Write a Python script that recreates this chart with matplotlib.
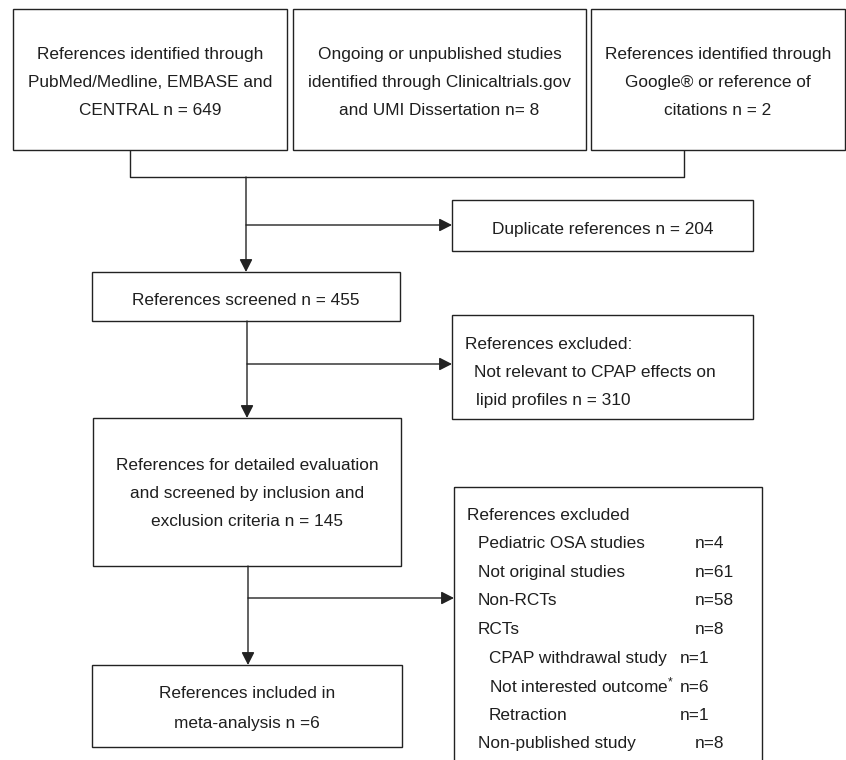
import matplotlib
matplotlib.use("Agg")
import matplotlib.pyplot as plt
from matplotlib.patches import Rectangle

plt.rcParams['font.family'] = ['Liberation Sans', 'DejaVu Sans']
plt.rcParams['mathtext.fontset'] = 'custom'
plt.rcParams['mathtext.rm'] = 'Liberation Sans'
plt.rcParams['mathtext.it'] = 'Liberation Sans'
plt.rcParams['mathtext.bf'] = 'Liberation Sans'

# ---- data (texts and counts) ----
source_labels = [
    ["References identified through", "PubMed/Medline, EMBASE and", "CENTRAL n = 649"],
    ["Ongoing or unpublished studies", "identified through Clinicaltrials.gov", "and UMI Dissertation n= 8"],
    ["References identified through", "Google\u00ae or reference of", "citations n = 2"],
]
duplicate_label = ["Duplicate references n = 204"]
screened_label = ["References screened n = 455"]
excluded1_label = ["References excluded:", "Not relevant to CPAP effects on", "lipid profiles n = 310"]
detailed_label = ["References for detailed evaluation", "and screened by inclusion and", "exclusion criteria n = 145"]
included_label = ["References included in", "meta-analysis n =6"]
excl2_header = "References excluded"
excl2_items = ["Pediatric OSA studies", "Not original studies", "Non-RCTs", "RCTs",
               "CPAP withdrawal study", r"Not interested outcome$^{*}$", "Retraction",
               "Non-published study"]
excl2_counts = ["n=4", "n=61", "n=58", "n=8", "n=1", "n=6", "n=1", "n=8"]
excl2_level = [1, 1, 1, 1, 2, 2, 2, 1]

# ---- layout ----
W, H = 846, 760
fig = plt.figure(figsize=(W / 100, H / 100), dpi=100)
ax = fig.add_axes([0, 0, 1, 1])
ax.set_xlim(0, W)
ax.set_ylim(H, 0)
ax.axis('off')

EC = '#222222'
TC = '#1e1e1e'
LW = 1.0
FS = 12.4
BOFF = 6  # baseline offset from visual line centre


def box(x0, y0, x1, y1):
    ax.add_patch(Rectangle((x0, y0), x1 - x0, y1 - y0, fill=False, ec=EC, lw=LW))


def centred_lines(lines, cx, ys):
    for t, y in zip(lines, ys):
        ax.text(cx, y + BOFF, t, ha='center', va='baseline', fontsize=FS, color=TC)


def line(xs, ys):
    ax.plot(xs, ys, color=EC, lw=LW, solid_capstyle='butt')


def arrow(x0, y0, x1, y1):
    ax.annotate('', xy=(x1, y1), xytext=(x0, y0),
                arrowprops=dict(arrowstyle='-|>,head_length=0.55,head_width=0.28',
                                mutation_scale=14, lw=LW, color=EC,
                                shrinkA=0, shrinkB=0))


# top source boxes
src_boxes = [(13, 9, 287, 150), (293, 9, 586, 150), (591, 9, 845, 150)]
top_ys = [53, 81, 109]
for (x0, y0, x1, y1), lab in zip(src_boxes, source_labels):
    box(x0, y0, x1, y1)
    centred_lines(lab, (x0 + x1) / 2, top_ys)

# bracket
line([130, 130, 684, 684], [150, 177, 177, 150])

# duplicate
box(452, 200, 753, 251)
centred_lines(duplicate_label, 602.5, [228])

# screened
box(92, 272, 400, 321)
centred_lines(screened_label, 246, [299])
arrow(246, 177, 246, 272)
arrow(246, 225, 452, 225)

# excluded 1
box(452, 315, 753, 419)
for t, x, y in zip(excluded1_label, [465, 474, 476], [343, 371, 399]):
    ax.text(x, y + BOFF, t, ha='left', va='baseline', fontsize=FS, color=TC)

# detailed evaluation
box(93, 418, 401, 566)
centred_lines(detailed_label, 247, [464, 492, 520])
arrow(247, 321, 247, 418)
arrow(247, 364, 452, 364)

# included
box(92, 665, 402, 747)
centred_lines(included_label, 247, [692, 722])
arrow(248, 566, 248, 665)
arrow(248, 598, 454, 598)

# excluded 2
box(454, 487, 762, 775)
ys2 = [514, 542, 571, 599, 628, 657, 686, 714, 742]
ax.text(467, ys2[0] + BOFF, excl2_header, ha='left', va='baseline', fontsize=FS, color=TC)
for t, n, lev, y in zip(excl2_items, excl2_counts, excl2_level, ys2[1:]):
    xt = 478 if lev == 1 else 489
    xn = 695 if lev == 1 else 680
    ax.text(xt, y + BOFF, t, ha='left', va='baseline', fontsize=FS, color=TC)
    ax.text(xn, y + BOFF, n, ha='left', va='baseline', fontsize=FS, color=TC)

fig.savefig('out.png', dpi=100, facecolor='white')
